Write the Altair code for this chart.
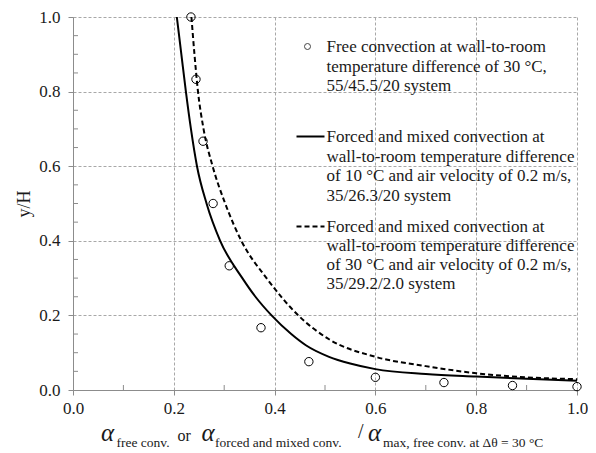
import altair as alt
import pandas as pd

# ---------------- data ----------------
free_x = [0.234, 0.244, 0.258, 0.278, 0.310, 0.373, 0.468, 0.600, 0.736, 0.872, 1.000]
free_y = [1.000, 0.833, 0.667, 0.500, 0.333, 0.167, 0.076, 0.034, 0.020, 0.012, 0.009]

solid_x = [0.206, 0.215, 0.224, 0.234, 0.246, 0.265, 0.292, 0.336, 0.362, 0.394,
           0.433, 0.462, 0.508, 0.550, 0.600, 0.700, 0.800, 0.900, 1.000]
solid_y = [1.000, 0.900, 0.800, 0.700, 0.600, 0.500, 0.400, 0.300, 0.250, 0.200,
           0.150, 0.120, 0.089, 0.071, 0.056, 0.043, 0.036, 0.030, 0.025]

dashed_x = [0.235, 0.241, 0.248, 0.259, 0.277, 0.302, 0.334, 0.384, 0.447, 0.508,
            0.600, 0.700, 0.800, 0.900, 1.000]
dashed_y = [1.000, 0.900, 0.800, 0.700, 0.600, 0.500, 0.400, 0.300, 0.200, 0.136,
            0.089, 0.064, 0.045, 0.034, 0.029]

x_ticks = [0.0, 0.2, 0.4, 0.6, 0.8, 1.0]
y_ticks = [0.0, 0.2, 0.4, 0.6, 0.8, 1.0]
x_minor = [0.1, 0.3, 0.5, 0.7, 0.9]
y_minor = [0.05, 0.1, 0.15, 0.25, 0.3, 0.35, 0.45, 0.5, 0.55, 0.65, 0.7, 0.75, 0.85, 0.9, 0.95]

legend_free = ["Free convection at wall-to-room",
               "temperature difference of 30 \u00b0C,",
               "55/45.5/20 system"]
legend_solid = ["Forced and mixed convection at",
                "wall-to-room temperature difference",
                "of 10 \u00b0C and air velocity of 0.2 m/s,",
                "35/26.3/20 system"]
legend_dashed = ["Forced and mixed convection at",
                 "wall-to-room temperature difference",
                 "of 30 \u00b0C and air velocity of 0.2 m/s,",
                 "35/29.2/2.0 system"]

y_title = "y/H"
# x-axis title pieces: (text, kind)
x_title_parts = [
    ("\u03b1", "alpha"), ("free conv.", "sub"), ("or", "word"),
    ("\u03b1", "alpha"), ("forced and mixed conv.", "sub"), ("/", "slash"),
    ("\u03b1", "alpha"), ("max, free conv. at \u0394\u03b8 = 30 \u00b0C", "sub"),
]

# ---------------- layout / style ----------------
W, H = 504, 373
FONT = "Liberation Serif"
AXIS_GRAY = "#8c8c8c"
GRID_GRAY = "#a8a8a8"
TXT = "#1a1a1a"

xscale = alt.Scale(domain=[0, 1], nice=False, zero=False)
yscale = alt.Scale(domain=[0, 1], nice=False, zero=False)

xaxis = alt.Axis(values=x_ticks, format=".1f", title=None, grid=True,
                 gridDash=[3, 2], gridColor=GRID_GRAY, gridWidth=1,
                 domainColor=AXIS_GRAY, tickColor=AXIS_GRAY, tickSize=5,
                 labelFont=FONT, labelFontSize=17, labelColor=TXT,
                 labelPadding=5, labelFlush=False)
yaxis = alt.Axis(values=y_ticks, format=".1f", title=y_title, grid=True,
                 gridDash=[3, 2], gridColor=GRID_GRAY, gridWidth=1,
                 domainColor=AXIS_GRAY, tickColor=AXIS_GRAY, tickSize=5,
                 labelFont=FONT, labelFontSize=17, labelColor=TXT,
                 labelPadding=8, labelFlush=False,
                 titleFont=FONT, titleFontSize=18, titleFontWeight="normal",
                 titleColor=TXT, titleAngle=270, titleX=-44, titleY=H / 2,
                 titleAlign="center", titleBaseline="alphabetic")


def X():
    return alt.X("x:Q", scale=xscale, axis=xaxis)


def Y():
    return alt.Y("y:Q", scale=yscale, axis=yaxis)


df_free = pd.DataFrame({"x": free_x, "y": free_y})
df_solid = pd.DataFrame({"x": solid_x, "y": solid_y, "i": range(len(solid_x))})
df_dash = pd.DataFrame({"x": dashed_x, "y": dashed_y, "i": range(len(dashed_x))})

solid = alt.Chart(df_solid).mark_line(color="black", strokeWidth=2, interpolate="monotone").encode(
    x=X(), y=Y(), order="i:Q")
dashed = alt.Chart(df_dash).mark_line(color="black", strokeWidth=2, strokeDash=[5, 3],
                                      interpolate="monotone").encode(x=X(), y=Y(), order="i:Q")
points = alt.Chart(df_free).mark_point(shape="circle", filled=False, color="black",
                                       strokeWidth=1, size=70, opacity=1).encode(x=X(), y=Y())

minor_x = alt.Chart(pd.DataFrame({"x": x_minor})).mark_rule(color=AXIS_GRAY, strokeWidth=1).encode(
    x=X(), y=alt.value(H), y2=alt.value(H - 5))
minor_y = alt.Chart(pd.DataFrame({"y": y_minor})).mark_rule(color=AXIS_GRAY, strokeWidth=1).encode(
    y=Y(), x=alt.value(0), x2=alt.value(5))

one = pd.DataFrame({"k": [0]})
layers = [minor_x, minor_y, solid, dashed, points]

# ---------- legend (drawn inside plot) ----------
LX_SYM0, LX_SYM1, LX_TXT = 223.5, 251.5, 253.5
layers.append(alt.Chart(one).mark_point(shape="circle", filled=False, color="#444",
                                        strokeWidth=1, size=36, opacity=1).encode(
    x=alt.value(234.5), y=alt.value(29.5)))
layers.append(alt.Chart(one).mark_rule(color="black", strokeWidth=2).encode(
    x=alt.value(LX_SYM0), x2=alt.value(LX_SYM1), y=alt.value(119.5)))
layers.append(alt.Chart(one).mark_rule(color="black", strokeWidth=2, strokeDash=[5, 3]).encode(
    x=alt.value(LX_SYM0), x2=alt.value(LX_SYM1), y=alt.value(209.5)))

legend_rows = [(legend_free, [35, 54.5, 74]),
               (legend_solid, [125, 144.5, 164, 183.5]),
               (legend_dashed, [214.5, 233.5, 253, 272])]
for lines, ys in legend_rows:
    for s, yy in zip(lines, ys):
        layers.append(alt.Chart(one).mark_text(font=FONT, fontSize=17, color=TXT, align="left",
                                               baseline="alphabetic").encode(
            x=alt.value(LX_TXT), y=alt.value(yy), text=alt.value(s)))

# ---------- x-axis title pieces ----------
title_pos = [28, 43.5, 104.5, 128.5, 142, 285, 295, 310]
title_base = {"alpha": 424, "sub": 429.5, "word": 424, "slash": 421}
title_size = {"alpha": 25, "sub": 13.5, "word": 16, "slash": 20}
for (s, kind), px in zip(x_title_parts, title_pos):
    layers.append(alt.Chart(one).mark_text(font=FONT, fontSize=title_size[kind], color=TXT,
                                           align="left", baseline="alphabetic",
                                           fontStyle="italic" if kind == "alpha" else "normal").encode(
        x=alt.value(px), y=alt.value(title_base[kind]), text=alt.value(s)))

chart = alt.layer(*layers).properties(
    width=W, height=H,
    padding={"left": 65, "top": 9, "right": 11, "bottom": 60},
    autosize=alt.AutoSizeParams(type="none"),
    background="white",
).configure_view(strokeOpacity=0)

chart.save("out.html", embed_options={"renderer": "svg", "actions": False})
